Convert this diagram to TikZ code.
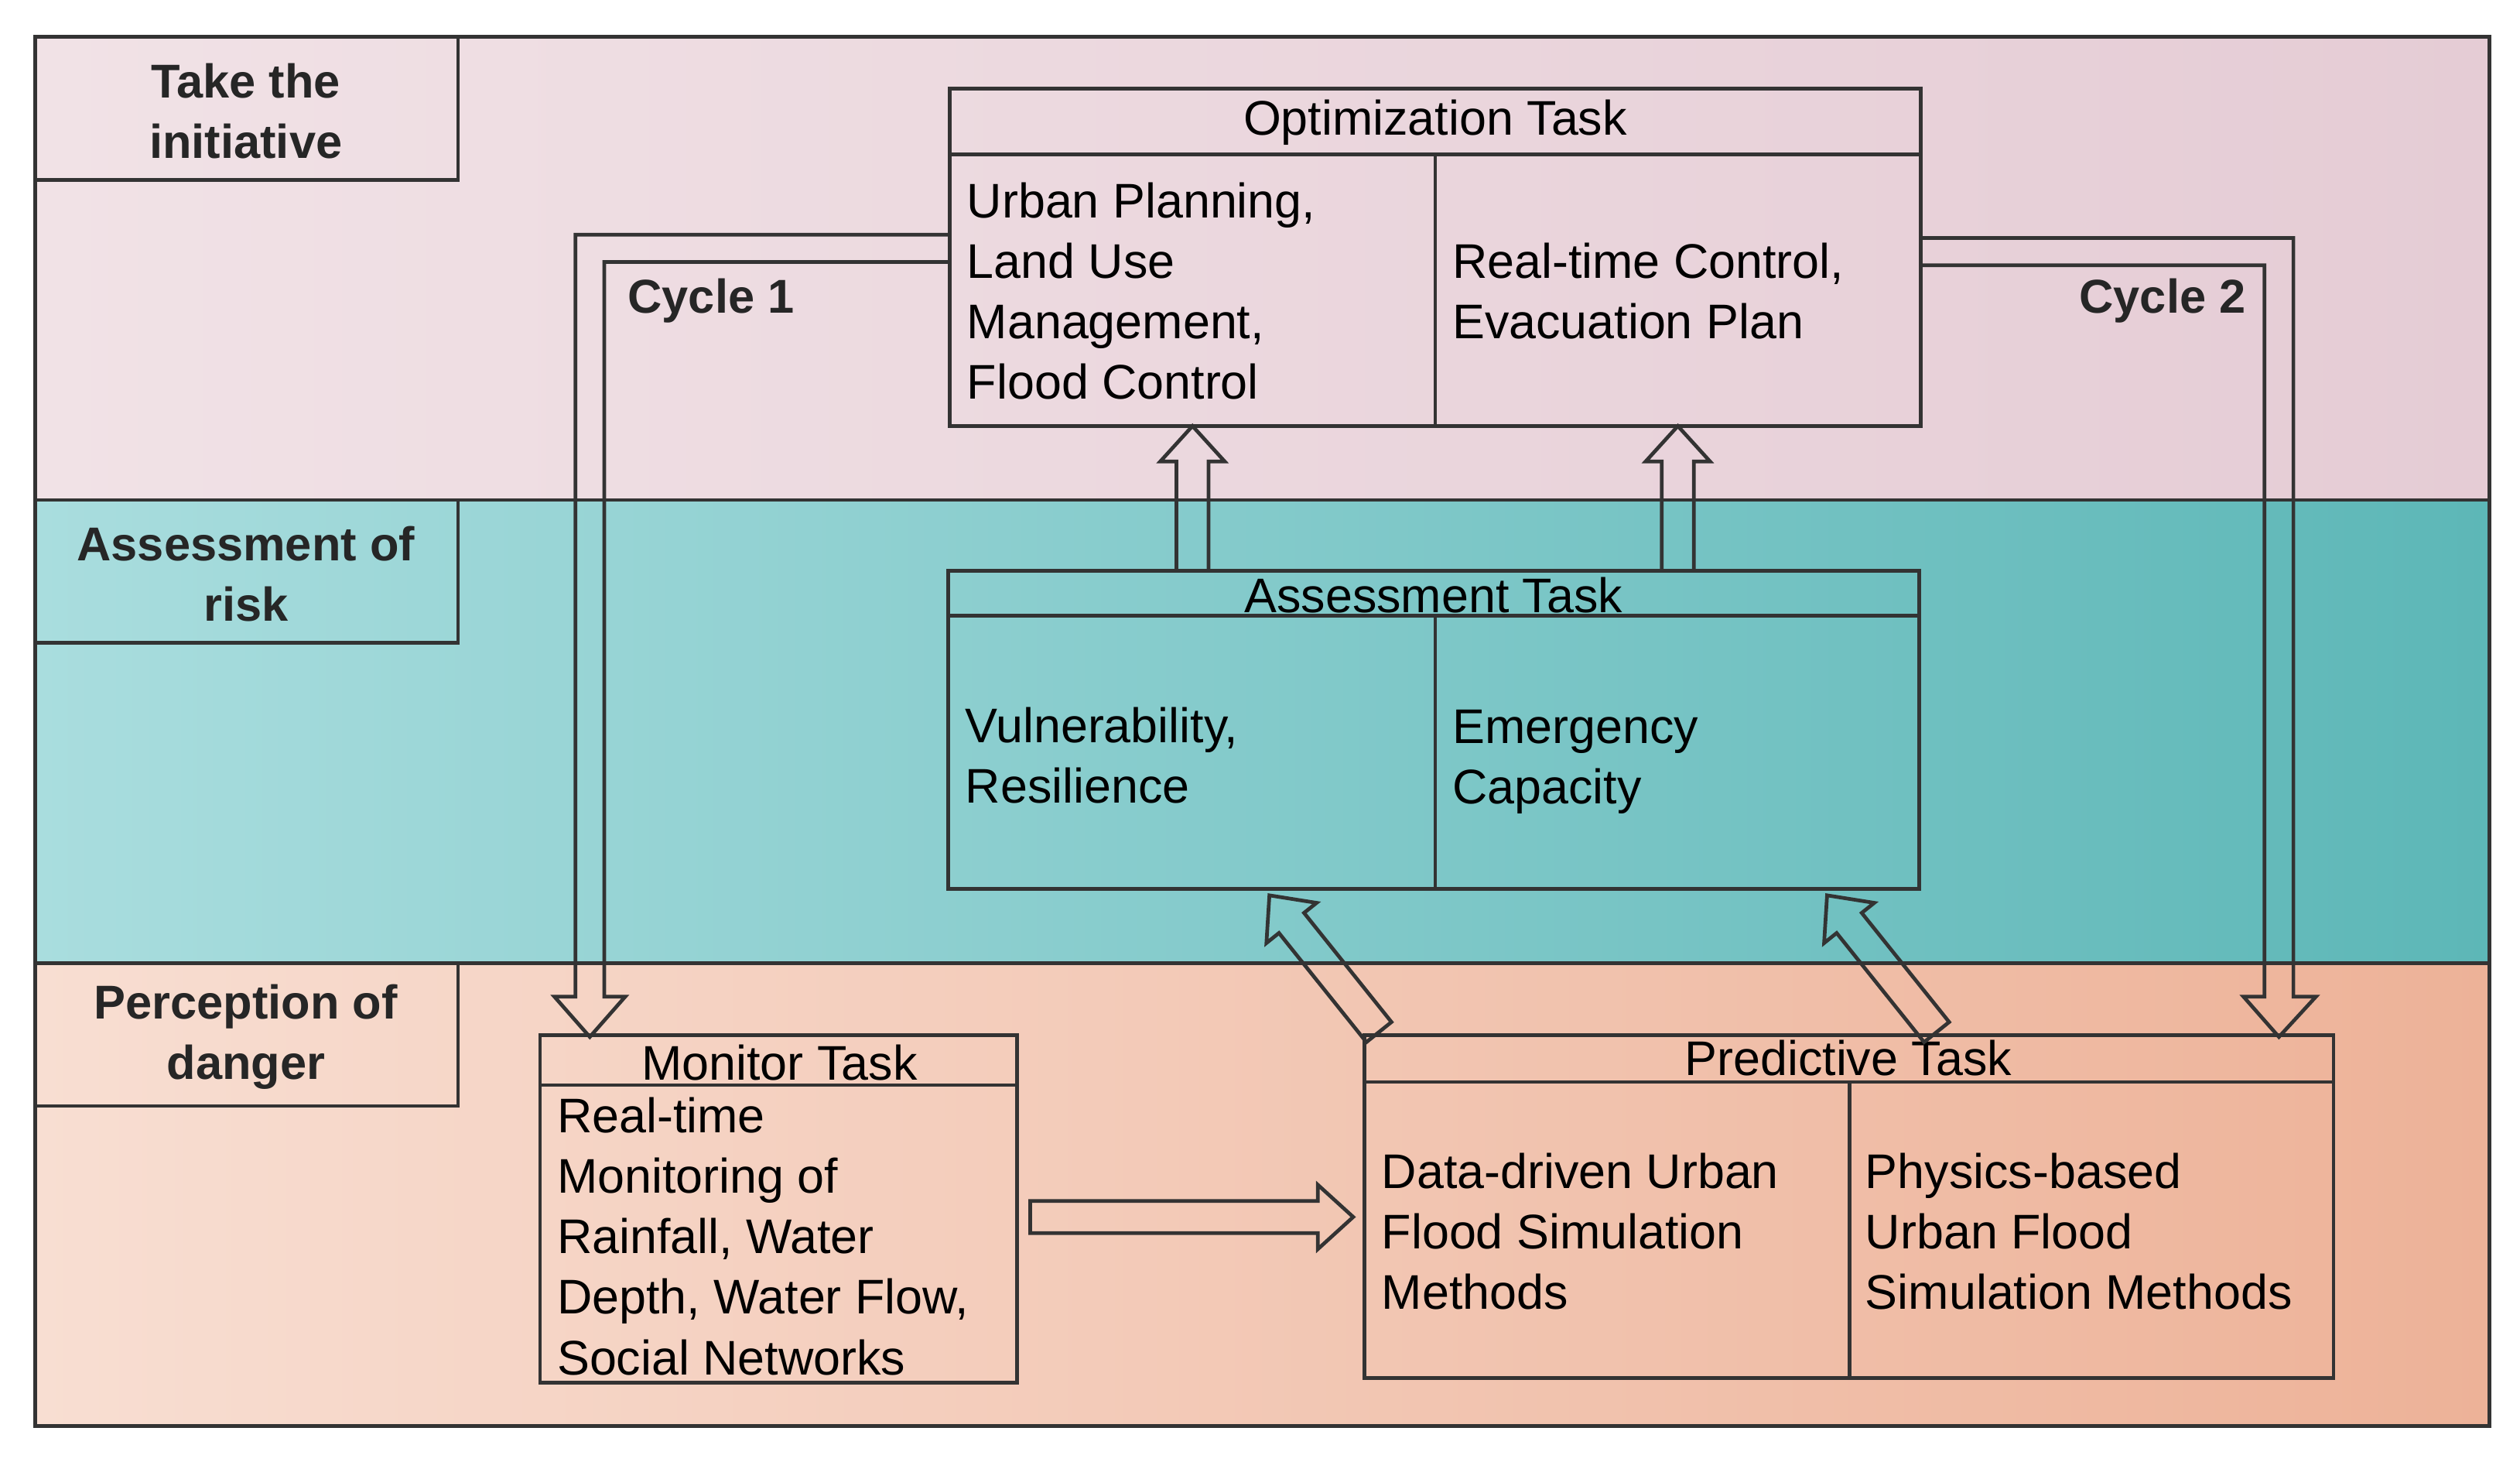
\documentclass[tikz,border=0pt]{standalone}
\usepackage{fontspec}
\setmainfont{Liberation Sans}
\begin{document}
\begin{tikzpicture}[x=0.01cm,y=-0.01cm,
  box/.style={draw=black!80,line width=0.65pt},
  body/.style={font=\fontsize{8.6}{10.7}\selectfont,align=left,inner sep=0pt},
  head/.style={font=\fontsize{8.6}{10}\selectfont,inner sep=0pt},
  lab/.style={font=\bfseries\fontsize{8.4}{10.7}\selectfont,align=center,inner sep=0pt,text=black!85},
  arr/.style={draw=black!80,line width=0.65pt}]
\useasboundingbox (0,0) rectangle (1568,909);
\definecolor{pA}{HTML}{F1E2E6}\definecolor{pB}{HTML}{E5CCD5}
\definecolor{tA}{HTML}{A9DDDE}\definecolor{tB}{HTML}{5DB7B7}
\definecolor{oA}{HTML}{F8DED2}\definecolor{oB}{HTML}{EDB298}
\shade[left color=pA,right color=pB] (22,23) rectangle (1549,311);
\shade[left color=tA,right color=tB] (22,311) rectangle (1549,599);
\shade[left color=oA,right color=oB] (22,599) rectangle (1549,887);
\draw[box] (22,23) rectangle (1549,887);
\draw[box] (22,311) -- (1549,311) (22,599) -- (1549,599);
% labels
\draw[box] (22,23) rectangle (285,112); \node[lab] (l1) at (153,69) {Take the\\initiative};
\draw[box] (22,311) rectangle (285,400); \node[lab] (l2) at (153,357) {Assessment of\\risk};
\draw[box] (22,599) rectangle (285,688); \node[lab] (l3) at (153,645) {Perception of\\danger};
% optimization
\draw[box] (591,55) rectangle (1195,265) (591,96) -- (1195,96) (893,96) -- (893,265);
\node[head] (oh) at (893,76) {Optimization Task};
\node[body,anchor=west] (o1) at (601,181) {Urban Planning,\\Land Use\\Management,\\Flood Control};
\node[body,anchor=west] (o2) at (903,181) {Real-time Control,\\Evacuation Plan};
\node[lab,anchor=west] (c1) at (390,187) {Cycle 1};
\node[lab,anchor=east] (c2) at (1398,187) {Cycle 2};
% assessment
\draw[box] (590,355) rectangle (1194,553) (590,383) -- (1194,383) (893,383) -- (893,553);
\node[head] (ah) at (892,370) {Assessment Task};
\node[body,anchor=west] (a1) at (600,470) {Vulnerability,\\Resilience};
\node[body,anchor=west] (a2) at (903,474) {Emergency\\Capacity};
% monitor
\draw[box] (336,644) rectangle (633,860) (336,675) -- (633,675);
\node[head] (mh) at (485,661) {Monitor Task};
\node[body,anchor=west] (m1) at (346,769) {Real-time\\Monitoring of\\Rainfall, Water\\Depth, Water Flow,\\Social Networks};
% predictive
\draw[box] (849,644) rectangle (1452,857) (849,673) -- (1452,673) (1151,673) -- (1151,857);
\node[head] (ph) at (1150,658) {Predictive Task};
\node[body,anchor=west] (p1) at (859,766) {Data-driven Urban\\Flood Simulation\\Methods};
\node[body,anchor=west] (p2) at (1160,766) {Physics-based\\Urban Flood\\Simulation Methods};
% hollow arrows: start, angle (tikz deg), length
\newcommand\hollowarr[4]{\begin{scope}[shift={(#1,#2)},rotate=#3]
 \draw[arr] (0,10) -- (#4-22,10) -- (#4-22,20) -- (#4,0) -- (#4-22,-20) -- (#4-22,-10) -- (0,-10) -- cycle;\end{scope}}
\hollowarr{742}{355}{90}{90}
\hollowarr{1044}{355}{90}{90}
\hollowarr{858}{642}{128.7}{109}
\hollowarr{1205}{642}{128.7}{109}
\hollowarr{641}{757}{0}{201}
% cycle arrows
\draw[arr] (591,146) -- (358,146) -- (358,620) -- (345,620) -- (367,645) -- (389,620) -- (376,620) -- (376,163) -- (591,163);
\draw[arr] (1195,148) -- (1427,148) -- (1427,620) -- (1441,620) -- (1418,645) -- (1396,620) -- (1409,620) -- (1409,165) -- (1195,165);
\end{tikzpicture}
\end{document}
